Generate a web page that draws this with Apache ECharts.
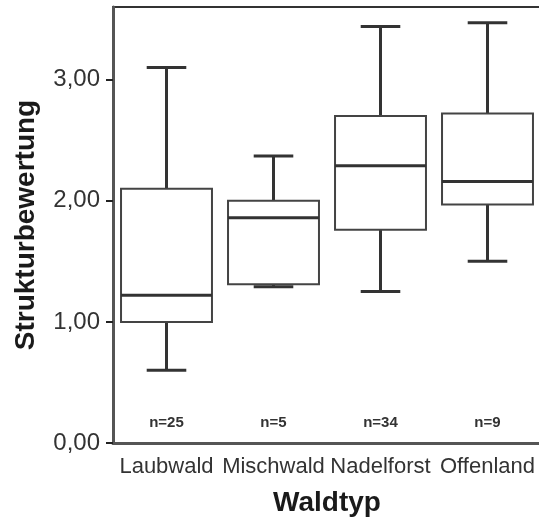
<!DOCTYPE html>
<html>
<head>
<meta charset="utf-8">
<script src="https://cdn.jsdelivr.net/npm/echarts@6/dist/echarts.min.js"></script>
<style>
  html, body { margin: 0; padding: 0; background: #fff; }
  #chart { width: 539px; height: 522px; }
</style>
</head>
<body>
<div id="chart"></div>
<script>
// Categories and five-number summaries per forest type
const categories = ['Laubwald', 'Mischwald', 'Nadelforst', 'Offenland'];
const whiskerLow  = [0.60, 1.29, 1.25, 1.50];
const quartileLow = [1.00, 1.31, 1.76, 1.97];
const medians     = [1.22, 1.86, 2.29, 2.16];
const quartileHigh = [2.10, 2.00, 2.70, 2.72];
const whiskerHigh = [3.10, 2.37, 3.44, 3.47];
const sampleSizes = [25, 5, 34, 9];
const yTicks = [0, 1, 2, 3];

const boxData = categories.map((c, i) => [i, whiskerLow[i], quartileLow[i], medians[i], quartileHigh[i], whiskerHigh[i]]);
const countData = categories.map((c, i) => [i, 0.17, 'n=' + sampleSizes[i]]);

const FONT = '"Liberation Sans", Arial, Helvetica, sans-serif';

function renderBox(params, api) {
  const x = api.value(0);
  const lo = api.coord([x, api.value(1)]);
  const q1 = api.coord([x, api.value(2)]);
  const md = api.coord([x, api.value(3)]);
  const q3 = api.coord([x, api.value(4)]);
  const hi = api.coord([x, api.value(5)]);
  const band = api.size([1, 0])[0];
  const bw = band * 0.85;
  const cw = band * 0.37;
  const cx = lo[0];
  const stroke = '#333';
  return {
    type: 'group',
    children: [
      { type: 'line', shape: { x1: cx, y1: q3[1], x2: cx, y2: hi[1] }, style: { stroke: stroke, lineWidth: 3 } },
      { type: 'line', shape: { x1: cx, y1: q1[1], x2: cx, y2: lo[1] }, style: { stroke: stroke, lineWidth: 3 } },
      { type: 'line', shape: { x1: cx - cw / 2, y1: hi[1], x2: cx + cw / 2, y2: hi[1] }, style: { stroke: stroke, lineWidth: 3 } },
      { type: 'line', shape: { x1: cx - cw / 2, y1: lo[1], x2: cx + cw / 2, y2: lo[1] }, style: { stroke: stroke, lineWidth: 3 } },
      { type: 'rect', shape: { x: cx - bw / 2, y: q3[1], width: bw, height: q1[1] - q3[1] }, style: { fill: '#fff', stroke: '#444', lineWidth: 2 } },
      { type: 'line', shape: { x1: cx - bw / 2, y1: md[1], x2: cx + bw / 2, y2: md[1] }, style: { stroke: stroke, lineWidth: 3 } }
    ]
  };
}

function renderCount(params, api) {
  const p = api.coord([api.value(0), api.value(1)]);
  return {
    type: 'text',
    x: p[0], y: p[1],
    style: {
      text: countData[params.dataIndex][2],
      fill: '#333',
      font: 'bold 15px ' + FONT,
      align: 'center',
      verticalAlign: 'middle'
    }
  };
}

const chart = echarts.init(document.getElementById('chart'), null, { renderer: 'canvas' });
chart.setOption({
  animation: false,
  backgroundColor: '#fff',
  grid: {
    left: 113, right: -2, top: 7, bottom: 79,
    containLabel: false, outerBoundsMode: 'none',
    show: true, borderColor: '#333', borderWidth: 2, backgroundColor: 'transparent'
  },
  xAxis: {
    type: 'category',
    data: categories,
    name: 'Waldtyp',
    nameLocation: 'middle',
    nameGap: 46,
    nameTextStyle: { fontFamily: FONT, fontWeight: 'bold', fontSize: 28, color: '#1a1a1a' },
    axisLine: { lineStyle: { color: '#555', width: 3 } },
    axisTick: { alignWithLabel: true, length: 5, lineStyle: { color: '#222', width: 2 } },
    axisLabel: { interval: 0, hideOverlap: false, fontFamily: FONT, fontSize: 22, color: '#333', margin: 13 },
    splitLine: { show: false }
  },
  yAxis: {
    type: 'value',
    min: 0,
    max: 3.6,
    name: 'Strukturbewertung',
    nameLocation: 'middle',
    nameGap: 73,
    nameTextStyle: { fontFamily: FONT, fontWeight: 'bold', fontSize: 28, color: '#1a1a1a' },
    axisLine: { show: true, lineStyle: { color: '#555', width: 3 } },
    axisTick: { show: true, length: 7, customValues: yTicks, lineStyle: { color: '#222', width: 2 } },
    axisLabel: {
      fontFamily: FONT, fontSize: 24, color: '#333', margin: 13,
      customValues: yTicks,
      formatter: v => v.toFixed(2).replace('.', ',')
    },
    splitLine: { show: false }
  },
  series: [
    { type: 'custom', renderItem: renderBox, data: boxData, encode: { x: 0, y: [1, 2, 3, 4, 5] }, z: 3 },
    { type: 'custom', renderItem: renderCount, data: countData, encode: { x: 0, y: 1 }, z: 4 }
  ]
});
</script>
</body>
</html>
